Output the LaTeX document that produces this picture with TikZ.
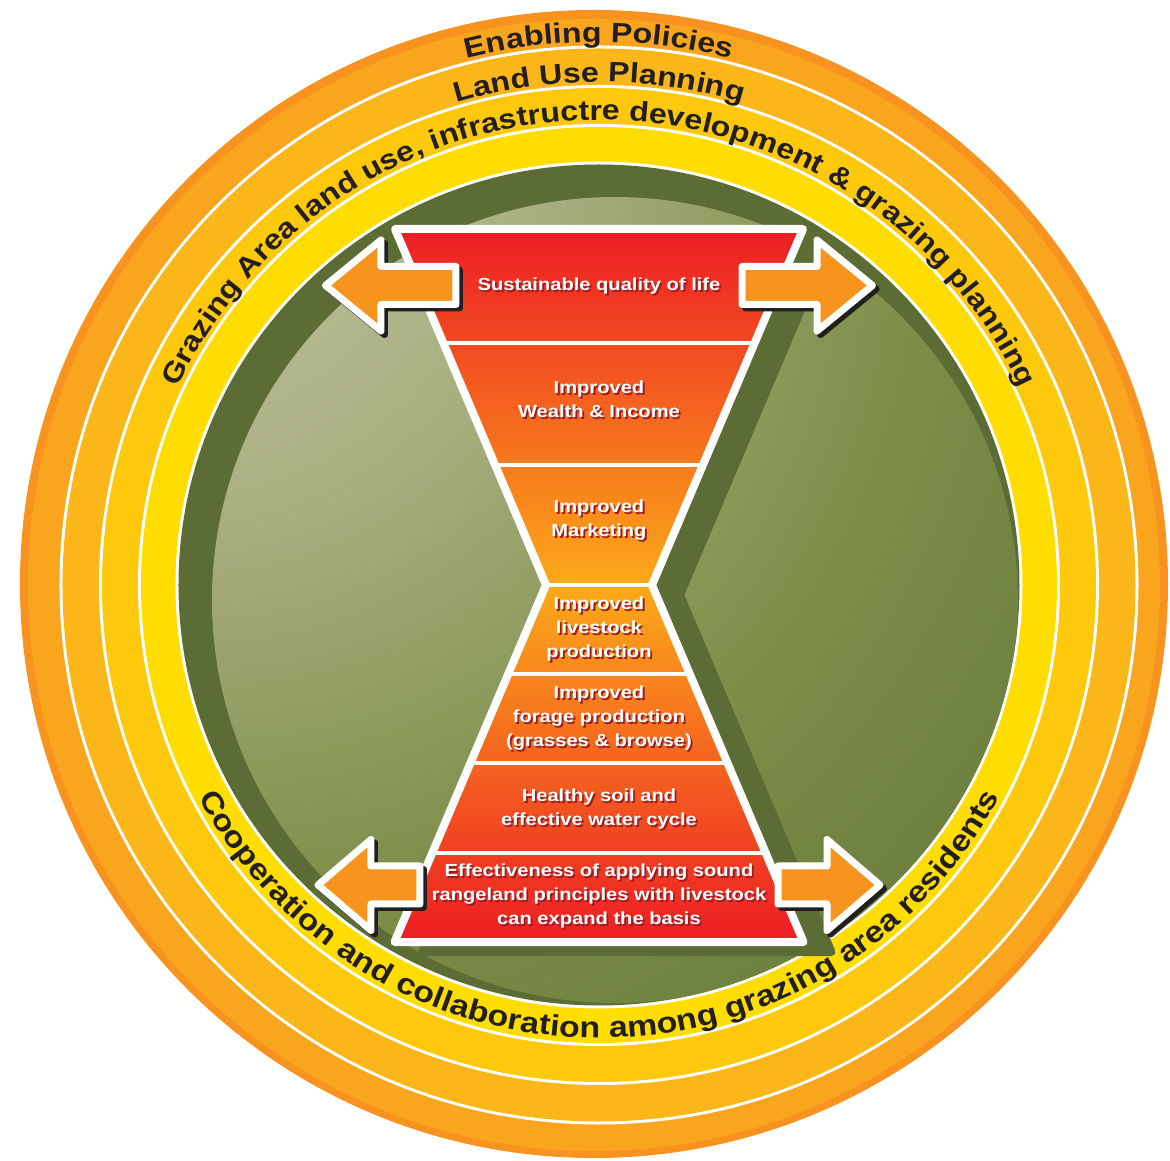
\documentclass[tikz,border=0pt]{standalone}
\usepackage{fontspec}
\newfontfamily\labelfont{Liberation Sans}[FakeStretch=1.15]
\usetikzlibrary{decorations.text}
\definecolor{ringedge}{HTML}{F7931E}
\definecolor{ringone}{HTML}{F9A51E}
\definecolor{ringtwo}{HTML}{FBB71A}
\definecolor{ringthree}{HTML}{FEC90C}
\definecolor{ringfour}{HTML}{FFDD00}
\definecolor{leaf}{HTML}{5B6C34}
\definecolor{ringtext}{HTML}{231F20}
\definecolor{spherelight}{HTML}{C8CBA6}
\definecolor{spheremid}{HTML}{ABB083}
\definecolor{sphereolive}{HTML}{7C8E47}
\definecolor{spheredeep}{HTML}{647739}
\definecolor{funnelred}{HTML}{ED1C24}
\definecolor{funnelamber}{HTML}{FBAA19}
\definecolor{arroworange}{HTML}{F7941D}
\definecolor{shadowred}{HTML}{9E1B20}
\definecolor{shadowgrey}{HTML}{231F20}
\pgfdeclareradialshading{sphere}{\pgfpoint{-33bp}{33bp}}{color(0bp)=(spherelight); color(22bp)=(spheremid); color(42bp)=(sphereolive); color(62bp)=(spheredeep); color(82bp)=(leaf); color(140bp)=(leaf)}
\newcommand\ringfont{\labelfont\bfseries\fontsize{28}{30}\selectfont\color{ringtext}}
\newcommand\basefont{\labelfont\bfseries\fontsize{29.5}{31}\selectfont\color{ringtext}}
\tikzset{
  ringlabel/.style={decorate, decoration={text along path, text align=center, text={|\ringfont|#1}}},
  baselabel/.style={decorate, decoration={text along path, text align=center, text={|\basefont|#1}}},
  bandlabel/.style={text=white, font=\labelfont\bfseries\fontsize{17.5}{24}\selectfont, align=center, inner sep=0pt},
  bandshadow/.style={bandlabel, text=shadowred, xshift=1.8, yshift=-1.8},
  separator/.style={white, line width=4},
  sidearrow/.style={fill=arroworange, draw=white, line width=7},
  arrowshadow/.style={fill=shadowgrey, draw=shadowgrey, line width=7}
}
\newcommand\bandtext[3]{\node [bandshadow] at (0,#2) {#3}; \node [bandlabel] (#1) at (0,#2) {#3};}

\begin{document}
\begin{tikzpicture}[x=1pt,y=1pt,line join=round]
\useasboundingbox (-599,-576) rectangle (571,585);
\fill [white] (-599,-576) rectangle (571,585);
\fill [ringedge] (-5,1) circle (574);
\fill [ringone] (-5,0) circle (566);
\foreach \r/\c in {539.5/white,536.5/ringtwo,500/white,497/ringthree,461/white,458/ringfour,423.5/white,420.5/leaf}
  \fill [\c] (0,0) circle (\r);
\begin{scope}
\clip (0,0) circle (420.5);
\shade [shading=sphere] (16,-15) circle (403);
\end{scope}
\path [ringlabel={Enabling Policies}] (180:543) arc [start angle=180, end angle=0, radius=543];
\path [ringlabel={Land Use Planning}] (180:503) arc [start angle=180, end angle=0, radius=503];
\path [ringlabel={Grazing Area land use, infrastructre development {\&} grazing planning}] (180:465) arc [start angle=180, end angle=0, radius=465];
\path [baselabel={Cooperation and collaboration among grazing area residents}] (180:453) arc [start angle=180, end angle=360, radius=453];
\coordinate (tl) at (-204,356);
\coordinate (tr) at (204,356);
\coordinate (pr) at (53,0);
\coordinate (br) at (204.5,-357);
\coordinate (bl) at (-204.5,-357);
\coordinate (pl) at (-53,0);
\filldraw [leaf, line width=8, transform canvas={shift={(28,-10)}}] (tl) -- (tr) -- (pr) -- (br) -- (bl) -- (pl) -- cycle;
\shade [top color=funnelred, bottom color=funnelamber] (tl) -- (tr) -- (pr) -- (pl) -- cycle;
\shade [top color=funnelamber, bottom color=funnelred] (pl) -- (pr) -- (br) -- (bl) -- cycle;
\draw [separator] (pl) -- (pr);
\foreach \y in {242,120,-89,-178,-268}
  \draw [separator] ({-53-0.424*abs(\y)},\y) -- ({53+0.424*abs(\y)},\y);
\draw [white, line width=8] (tl) -- (tr) -- (pr) -- (br) -- (bl) -- (pl) -- cycle;
\foreach \s in {1,-1}
  \foreach \tip/\back/\stem/\ymid in {273.5/218/143/299.5,281/228/179/-300} {
    \begin{scope}[xscale=\s]
    \filldraw [arrowshadow, shift={({3.5*\s},-3.5)}] (-\tip,\ymid) -- (-\back,\ymid+45.5) -- (-\back,\ymid+19) -- (-\stem,\ymid+19) -- (-\stem,\ymid-19) -- (-\back,\ymid-19) -- (-\back,\ymid-45.5) -- cycle;
    \filldraw [sidearrow] (-\tip,\ymid) -- (-\back,\ymid+45.5) -- (-\back,\ymid+19) -- (-\stem,\ymid+19) -- (-\stem,\ymid-19) -- (-\back,\ymid-19) -- (-\back,\ymid-45.5) -- cycle;
    \end{scope}
  }
\bandtext{life}{299}{Sustainable quality of life}
\bandtext{wealth}{186}{Improved\\Wealth \& Income}
\bandtext{market}{65}{Improved\\Marketing}
\bandtext{livestock}{-44}{Improved\\livestock\\production}
\bandtext{forage}{-133}{Improved\\forage production\\(grasses \& browse)}
\bandtext{soil}{-224}{Healthy soil and\\effective water cycle}
\bandtext{basis}{-311}{Effectiveness of applying sound\\rangeland principles with livestock\\can expand the basis}
\end{tikzpicture}
\end{document}
